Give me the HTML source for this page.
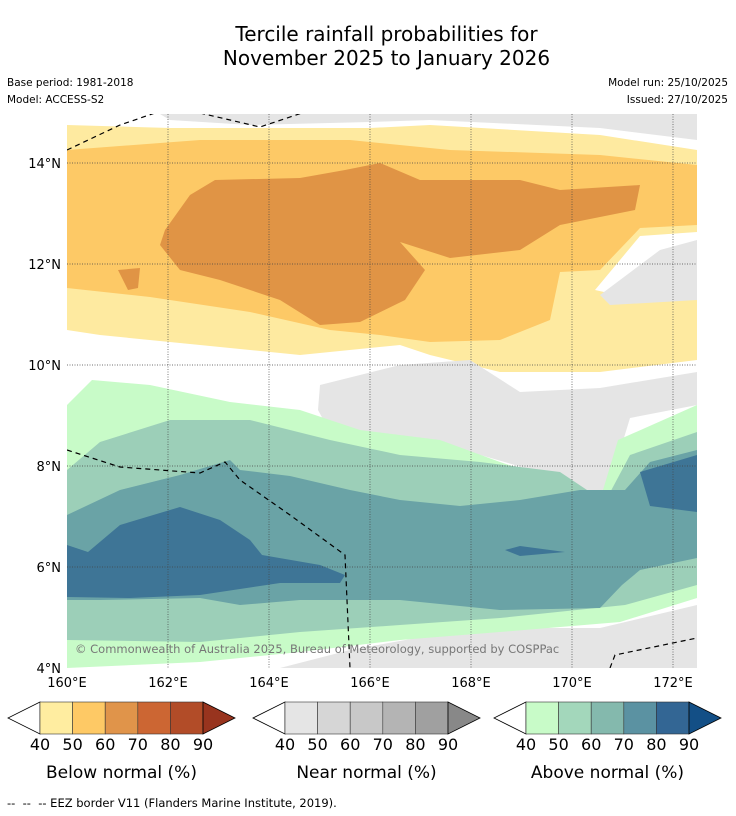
<!DOCTYPE html>
<html><head><meta charset="utf-8">
<style>
body{margin:0;background:#fff;font-family:"DejaVu Sans","Liberation Sans",sans-serif;}
#wrap{position:relative;width:736px;height:816px;overflow:hidden;}
.t{position:absolute;white-space:nowrap;}
svg text{font-family:"DejaVu Sans","Liberation Sans",sans-serif;}
</style></head>
<body>
<div id="wrap">
<div class="t" style="left:0;width:773px;top:22px;text-align:center;font-size:20px;line-height:24px;">Tercile rainfall probabilities for<br>November 2025 to January 2026</div>
<div class="t" style="left:7px;top:77px;font-size:10.5px;">Base period: 1981-2018</div>
<div class="t" style="left:7px;top:94px;font-size:10.5px;">Model: ACCESS-S2</div>
<div class="t" style="right:8px;top:77px;font-size:10.5px;">Model run: 25/10/2025</div>
<div class="t" style="right:8px;top:94px;font-size:10.5px;">Issued: 27/10/2025</div>
<svg id="svg" width="736" height="816" style="position:absolute;left:0;top:0"></svg>
<div class="t" style="left:7px;top:796px;font-size:11.5px;">--&nbsp; --&nbsp; -- EEZ border V11 (Flanders Marine Institute, 2019).</div>
</div>
<script>
const levels=["40","50","60","70","80","90"];
const belowColors=["#ffeda0","#fec965","#e0944a","#cc6633","#b24c28","#98341e"];
const nearColors=["#e5e5e5","#d6d6d6","#c8c8c8","#b4b4b4","#a0a0a0","#888888"];
const aboveColors=["#c8fbc8","#a3d7bb","#84b9ad","#5b92a2","#336694","#134f86"];
const mapBelow=["#feeaa0","#fdc966","#e09445"];
const mapAbove=["#c8fbc8","#9ccfb8","#6aa3a6","#3e7596"];
const barTitles=["Below normal (%)","Near normal (%)","Above normal (%)"];
const lonTicks=[160,162,164,166,168,170,172];
const latTicks=[4,6,8,10,12,14];

const X0=67,X1=697,Y0=114,Y1=668;
function xLon(l){return 67+(l-160)*50.5;}
function yLat(l){return 163+(14-l)*50.5;}
const NS="http://www.w3.org/2000/svg";
const svg=document.getElementById('svg');
function mk(tag,attrs,parent){const e=document.createElementNS(NS,tag);for(const k in attrs)e.setAttribute(k,attrs[k]);(parent||svg).appendChild(e);return e;}
function P(pts){return pts.map(p=>xLon(p[0]).toFixed(1)+","+yLat(p[1]).toFixed(1)).join(" ");}
function L(px){return px.map(p=>[160+(p[0]-67)/50.5,14-(p[1]-163)/50.5]);}

const clip=mk('clipPath',{id:'mc'});mk('rect',{x:X0,y:Y0,width:X1-X0,height:Y1-Y0},clip);
const g=mk('g',{'clip-path':'url(#mc)'});



const regions=[
 ["near-top",nearColors[0],L([[150,108],[697,108],[697,140],[600,128],[430,120],[370,122],[250,125],[170,120]])],
 ["below-40",mapBelow[0],L([[67,125],[170,128],[370,128],[430,125],[600,135],[697,150],[697,232],[640,236],[595,290],[640,300],[697,290],[697,360],[600,372],[500,372],[430,355],[400,345],[300,355],[200,345],[100,335],[67,330]])],
 ["near-right",nearColors[0],L([[697,240],[660,250],[600,295],[610,305],[697,300]])],
 ["below-50",mapBelow[1],L([[67,150],[200,140],[350,140],[450,150],[600,155],[697,165],[697,225],[640,228],[600,270],[560,272],[550,320],[500,340],[430,342],[380,335],[330,330],[250,312],[150,297],[67,288]])],
 ["below-60",mapBelow[2],L([[165,230],[190,195],[215,180],[300,178],[345,170],[380,163],[420,180],[520,180],[560,190],[640,185],[635,210],[560,225],[520,250],[450,258],[400,242],[425,270],[405,300],[360,322],[320,325],[280,300],[220,280],[180,270],[160,245]])],
 ["below-60-blob",mapBelow[2],L([[118,270],[140,268],[138,288],[128,290]])],
 ["near-mid",nearColors[0],L([[320,385],[360,375],[400,365],[470,360],[520,392],[600,388],[697,372],[697,405],[630,418],[605,500],[560,478],[470,452],[400,442],[330,432],[318,410]])],
 ["near-bottom",nearColors[0],L([[280,668],[350,650],[450,632],[520,628],[600,628],[697,605],[697,668]])],
 ["above-40",mapAbove[0],L([[67,405],[92,380],[150,385],[230,402],[300,410],[360,430],[440,440],[500,462],[560,482],[600,500],[618,440],[697,405],[697,598],[620,622],[500,632],[400,640],[300,652],[200,662],[67,668]])],
 ["above-50",mapAbove[1],L([[67,470],[100,442],[170,420],[250,420],[330,440],[400,455],[480,462],[560,472],[605,502],[630,455],[697,432],[697,585],[625,605],[500,618],[400,625],[300,632],[200,642],[67,640]])],
 ["above-60",mapAbove[2],L([[67,515],[120,490],[180,475],[230,460],[240,470],[290,476],[350,490],[400,500],[460,506],[520,500],[580,490],[625,490],[650,462],[697,450],[697,558],[640,570],[622,585],[600,608],[500,610],[400,600],[300,600],[240,605],[200,598],[100,600],[67,600]])],
 ["above-70",mapAbove[3],L([[67,545],[88,552],[120,525],[180,507],[220,520],[250,540],[262,555],[320,565],[345,575],[340,583],[280,583],[200,595],[130,598],[67,597]])],
 ["above-70-right",mapAbove[3],L([[640,472],[697,455],[697,512],[650,506]])],
 ["above-70-blob",mapAbove[3],L([[505,550],[520,546],[565,552],[520,556]])]
];
regions.forEach(r=>{const p=mk('polygon',{points:P(r[2]),fill:r[1]},g);

});

lonTicks.slice(1).forEach(l=>{const e=mk('line',{x1:xLon(l),x2:xLon(l),y1:Y0,y2:Y1,stroke:'#444','stroke-width':0.7,'stroke-dasharray':'1,1.5'},g);

});
latTicks.slice(1).forEach(l=>{const e=mk('line',{x1:X0,x2:X1,y1:yLat(l),y2:yLat(l),stroke:'#444','stroke-width':0.7,'stroke-dasharray':'1,1.5'},g);

});
const eez=[L([[67,150],[120,125],[155,113]]),L([[200,113],[260,127],[305,112]]),
L([[67,450],[120,467],[200,473],[225,462],[240,480],[290,515],[345,555],[350,668]]),L([[610,668],[615,655],[697,638]])];
eez.forEach(s=>{const e=mk('polyline',{points:P(s),fill:'none',stroke:'#000','stroke-width':1.2,'stroke-dasharray':'5,4'},g);

});
const cp=mk('text',{x:75,y:653,'font-size':11.5,fill:'#777'},g);cp.textContent="© Commonwealth of Australia 2025, Bureau of Meteorology, supported by COSPPac";



lonTicks.forEach(l=>{const t=mk('text',{x:xLon(l),y:687,'font-size':13,'text-anchor':'middle'});t.textContent=l+"°E";

});
latTicks.forEach(l=>{const t=mk('text',{x:61,y:yLat(l)+5,'font-size':13,'text-anchor':'end'});t.textContent=l+"°N";

});

const barX=[40,285,526];const pal=[belowColors,nearColors,aboveColors];const bw=32.6,by=702,bh=32;
barX.forEach((bx,i)=>{
 const grp=mk('g',{});
 
 
 const n=levels.length-1;
 mk('polygon',{points:`${bx},${by} ${bx-32},${by+bh/2} ${bx},${by+bh}`,fill:'#fff',stroke:'#000','stroke-width':0.8},grp);
 for(let k=0;k<n;k++)mk('rect',{x:bx+k*bw,y:by,width:bw,height:bh,fill:pal[i][k],stroke:'#333','stroke-width':0.6},grp);
 const ex=bx+n*bw;
 mk('polygon',{points:`${ex},${by} ${ex+32},${by+bh/2} ${ex},${by+bh}`,fill:pal[i][5],stroke:'#000','stroke-width':0.8},grp);
 levels.forEach((lv,k)=>{const t=mk('text',{x:bx+k*bw,y:750,'font-size':16,'text-anchor':'middle'},grp);t.textContent=lv;});
 const tt=mk('text',{x:bx+n*bw/2,y:778,'font-size':17,'text-anchor':'middle'},grp);tt.textContent=barTitles[i];
});
</script>
</body></html>
